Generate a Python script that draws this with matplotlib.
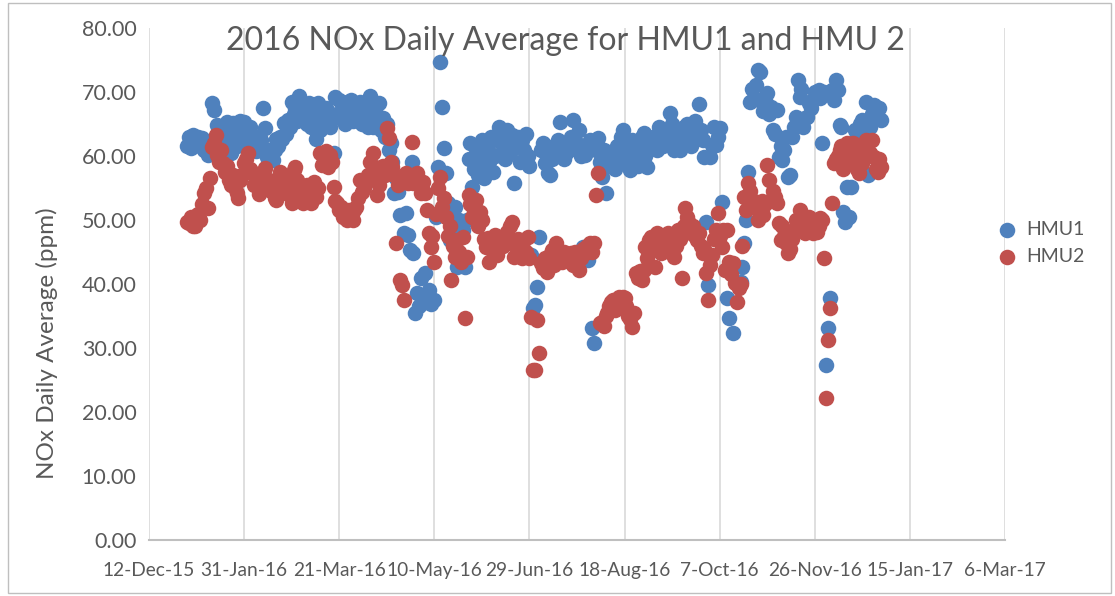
import numpy as np
import matplotlib
matplotlib.use("Agg")
import matplotlib.pyplot as plt
from matplotlib.patches import Rectangle
import datetime as dt

nan = np.nan

# Daily values, 1-Jan-2016 .. 31-Dec-2016
hmu1_values = [
    61.5, 63.0, 61.2, 63.3, 62.0, 62.5, 63.0, 61.5, 62.8, 60.9,
    61.5, 60.2, 62.0, 68.3, 67.2, 63.0, 64.8, 61.5, 62.5, 64.0,
    62.0, 65.3, 63.5, 60.5, 65.2, 64.0, 61.5, 63.5, 65.5, 64.3,
    65.3, 64.0, 62.0, 64.6, 61.5, 62.0, 60.8, 63.0, 61.0, 62.5,
    67.5, 64.4, 59.9, 61.0, 60.2, 59.4, 61.0, 62.6, 61.5, 63.0,
    62.6, 65.2, 63.5, 65.6, 64.5, 68.5, 66.5, 67.5, 65.5, 69.3,
    68.3, 66.0, 67.0, 65.0, 68.3, 64.5, 67.0, 66.0, 62.6, 68.3,
    64.1, 66.5, 65.0, 67.5, 66.8, 64.5, 66.0, 60.5, 69.2, 66.5,
    68.8, 66.0, 67.5, 65.0, 68.5, 66.5, 68.8, 65.5, 67.0, 68.0,
    66.0, 68.5, 65.0, 67.5, 68.3, 64.6, 69.3, 66.0, 64.5, 67.2,
    66.2, 68.3, 64.1, 66.0, 63.0, 65.0, 60.9, 62.0, 59.0, 54.2,
    56.5, 54.4, 50.8, 55.8, 48.0, 51.1, 47.7, 45.3, 59.1, 44.8,
    35.5, 38.6, 36.5, 41.0, 38.0, 41.7, 37.2, 39.0, 36.9, 37.5,
    37.5, 50.5, 58.3, 74.7, 67.7, 61.2, 57.3, 52.6, 46.9, 51.2,
    49.0, 52.0, 42.7, 50.0, 49.5, 48.5, 42.7, 50.0, 59.5, 62.0,
    55.2, 58.0, 60.5, 57.0, 59.5, 62.5, 56.5, 58.5, 61.0, 59.0,
    63.0, 57.5, 60.0, 62.5, 64.5, 63.3, 61.0, 59.5, 64.0, 62.0,
    60.5, 63.3, 55.8, 61.5, 63.0, 59.0, 62.5, 61.0, 63.5, 60.0,
    58.5, 44.5, 36.2, 36.7, 39.5, 47.4, 61.0, 62.0, 58.9, 60.5,
    57.3, 57.0, 59.5, 61.5, 60.0, 62.5, 65.3, 61.0, 59.5, 60.5,
    62.0, 61.5, 63.0, 65.6, 62.5, 61.0, 64.1, 60.0, 45.8, 60.2,
    61.5, 43.8, 62.5, 33.1, 30.8, 61.0, 62.8, 59.0, 56.7, 61.0,
    54.2, 59.8, 58.5, 59.8, 60.5, 58.0, 61.5, 60.0, 63.0, 64.1,
    62.0, 59.0, 60.5, 57.8, 62.5, 59.5, 61.0, 58.5, 61.0, 63.0,
    63.6, 60.0, 58.3, 62.0, 61.5, 63.0, 62.0, 61.0, 64.5, 63.0,
    61.5, 62.5, 64.0, 63.5, 66.7, 65.0, 61.0, 62.5, 64.0, 60.9,
    63.5, 64.5, 62.5, 65.0, 63.0, 61.5, 64.0, 65.5, 63.5, 68.2,
    64.0, 62.5, 59.8, 49.7, 39.8, 59.9, 61.7, 64.6, 61.7, 63.0,
    64.4, 52.8, nan, nan, 37.8, 34.7, nan, 32.3, nan, nan,
    nan, 40.3, 42.7, 46.4, 50.0, 57.5, 68.4, 70.5, 69.0, 71.1,
    73.4, 73.2, 68.5, 67.0, 68.8, 69.8, 66.5, 67.7, 64.1, 63.5,
    67.2, 59.9, 61.5, 59.4, 60.9, 63.0, 56.7, 57.0, 63.0, 64.5,
    66.1, 71.9, 69.2, 70.5, 64.5, 66.0, 66.1, 68.3, 67.5, 68.8,
    70.0, 69.5, 70.3, 69.0, 62.0, 70.0, 27.3, 33.1, 37.8, 70.3,
    68.8, 71.9, 70.3, 64.8, 64.5, 51.2, 49.7, 55.2, 50.5, 55.2,
    62.0, 64.1, 63.5, 61.0, 65.0, 65.7, 64.0, 68.4, 57.0, 64.6,
    66.5, 68.0, 67.7, 66.0, 67.5, 65.7,
]

hmu2_values = [
    49.7, 49.5, 50.5, 49.0, 49.0, 50.8, 51.0, 50.0, 52.5, 54.2,
    55.0, 51.9, 56.5, 61.4, 62.0, 63.3, 60.2, 59.0, 60.9, 58.9,
    57.5, 58.5, 56.3, 55.5, 57.0, 55.0, 54.2, 53.5, 56.3, 57.0,
    58.9, 59.5, 60.5, 58.0, 57.5, 55.5, 56.3, 56.3, 54.0, 55.0,
    57.0, 58.1, 55.5, 56.3, 54.5, 55.0, 53.5, 53.1, 55.5, 57.5,
    55.0, 56.0, 55.2, 54.0, 56.5, 52.6, 57.8, 58.3, 56.3, 55.0,
    53.5, 52.6, 54.0, 55.5, 53.6, 52.6, 54.0, 56.0, 53.6, 55.0,
    60.5, 58.6, 59.5, 60.8, 58.3, 60.2, 59.0, 55.2, 53.0, 52.6,
    51.5, 52.0, 50.5, 51.0, 50.0, 51.5, 50.5, 50.0, 51.5, 52.0,
    53.5, 56.3, 54.4, 55.0, 56.0, 57.0, 59.1, 57.5, 60.5, 56.7,
    53.9, 55.5, 58.3, 58.5, 57.0, 64.4, 62.8, 59.0, 58.3, 57.0,
    46.4, 55.5, 40.6, 39.8, 37.5, 57.3, 55.8, 56.5, 62.2, 55.8,
    56.3, 57.3, 55.8, 54.2, 56.0, 54.2, 51.6, 48.0, 45.8, 47.5,
    43.4, 51.0, 55.0, 56.7, 52.0, 53.4, 50.5, 47.5, 49.0, 40.6,
    46.0, 44.2, 46.9, 45.0, 43.5, 47.3, 34.7, 44.2, 53.9, 52.5,
    50.5, 51.5, 53.1, 49.0, 51.2, 50.0, 47.0, 45.8, 47.2, 43.4,
    45.5, 46.5, 47.7, 44.5, 45.8, 47.0, 46.0, 47.5, 48.1, 46.5,
    49.0, 49.7, 44.2, 46.0, 47.0, 45.5, 44.0, 46.9, 45.0, 47.3,
    44.0, 34.8, 26.6, 26.6, 34.4, 29.2, 43.3, 42.5, 44.0, 41.9,
    43.0, 44.5, 45.3, 43.0, 46.4, 45.0, 44.0, 43.5, 45.0, 43.75,
    44.5, 44.0, 44.8, 43.0, 45.0, 43.5, 42.2, 44.0, 45.5, 44.8,
    46.0, 45.5, 46.4, 45.0, 46.4, 53.9, 57.3, 33.9, 34.0, 33.5,
    35.0, 35.5, 36.5, 37.2, 37.5, 36.0, 37.5, 38.0, 36.8, 38.0,
    37.8, 36.5, 35.0, 34.5, 33.3, 35.5, 41.7, 41.0, 42.0, 40.6,
    42.2, 45.8, 44.0, 46.9, 47.3, 45.5, 42.7, 48.0, 46.0, 44.8,
    47.0, 45.5, 46.5, 48.0, 45.0, 47.5, 44.2, 46.0, 48.5, 47.0,
    40.9, 49.0, 51.9, 50.5, 49.5, 48.0, 49.0, 47.5, 46.9, 48.0,
    46.0, 44.8, 45.5, 41.7, 37.5, 43.0, 44.5, 47.0, 48.4, 51.1,
    47.5, 45.8, 48.5, 42.2, 48.4, 43.5, 41.5, 43.3, 40.2, 37.2,
    39.4, 40.0, 46.0, 53.6, 51.5, 55.8, 54.5, 52.0, 53.0, 52.0,
    50.0, 51.5, 53.0, 50.8, 52.5, 58.6, 56.3, 53.1, 54.5, 53.6,
    52.6, 49.5, 46.9, 49.0, 47.5, 46.4, 44.8, 45.5, 47.0, 48.5,
    50.0, 49.5, 51.6, 50.5, 49.0, 48.0, 49.2, 50.5, 48.5, 48.0,
    49.5, 48.1, 49.0, 50.3, 50.0, 44.0, 22.2, 31.3, 36.3, 52.6,
    58.9, 59.5, 60.0, 60.9, 61.5, 58.0, 60.0, 62.0, 61.5, 59.0,
    62.0, 60.5, 58.0, 57.3, 59.0, 58.9, 61.0, 62.5, 62.0, 60.5,
    62.5, 59.8, 58.0, 57.5, 59.5, 58.3,
]

series_names = ["HMU1", "HMU2"]
series_colors = ["#4F81BD", "#C0504D"]
tick_labels = ["12-Dec-15", "31-Jan-16", "21-Mar-16", "10-May-16", "29-Jun-16",
               "18-Aug-16", "7-Oct-16", "26-Nov-16", "15-Jan-17", "6-Mar-17"]
y_ticks = [0, 10, 20, 30, 40, 50, 60, 70, 80]

start = dt.date(2016, 1, 1)
dates = [start + dt.timedelta(days=i) for i in range(len(hmu1_values))]

plt.rcParams['font.family'] = ['Lato', 'DejaVu Sans']
txt = "#595959"

fig = plt.figure(figsize=(11.15, 5.96), dpi=100)
ax = fig.add_axes([149/1115, 1 - 540/596, (1005 - 149)/1115, (540 - 28)/596])

for vals, name, col in zip([hmu1_values, hmu2_values], series_names, series_colors):
    ax.scatter(dates, vals, s=125, color=col, label=name, linewidths=0, zorder=3)

tick_dates = [dt.datetime.strptime(t, "%d-%b-%y").date() for t in tick_labels]
ax.set_xlim(tick_dates[0], tick_dates[-1])
ax.set_xticks(tick_dates)
ax.set_xticklabels(tick_labels)
ax.set_ylim(0, 80)
ax.set_yticks(y_ticks)
ax.set_yticklabels([f"{v:.2f}" for v in y_ticks])
ax.tick_params(axis='x', length=0, colors=txt, labelsize=13.8, pad=16)
ax.tick_params(axis='y', length=0, colors=txt, labelsize=15.5, pad=9)
ax.grid(axis='x', color="#D9D9D9", linewidth=1.2, zorder=0)
ax.grid(axis='y', visible=False)
for s in ['top', 'right', 'left']:
    ax.spines[s].set_visible(False)
ax.spines['bottom'].set_color("#BFBFBF")
ax.spines['bottom'].set_linewidth(1.5)

fig.text(565/1115, 1 - 41/596, "2016 NOx Daily Average for HMU1 and HMU 2",
         ha='center', va='center', fontsize=23, color=txt)
fig.text(47/1115, 1 - 343/596, "NOx Daily Average (ppm)", rotation=90,
         ha='center', va='center', fontsize=17.5, color=txt)

leg = fig.legend(loc='center left', bbox_to_anchor=(970/1115, 1 - 243/596),
                 frameon=False, fontsize=14, handletextpad=0.0,
                 labelspacing=0.55, markerscale=1.0)
for t in leg.get_texts():
    t.set_color(txt)

fig.patches.append(Rectangle((8/1115, 3/596), 1103/1115, 590/596, transform=fig.transFigure,
                             fill=False, edgecolor="#BFBFBF", linewidth=1))

fig.savefig("out.png", dpi=100)
